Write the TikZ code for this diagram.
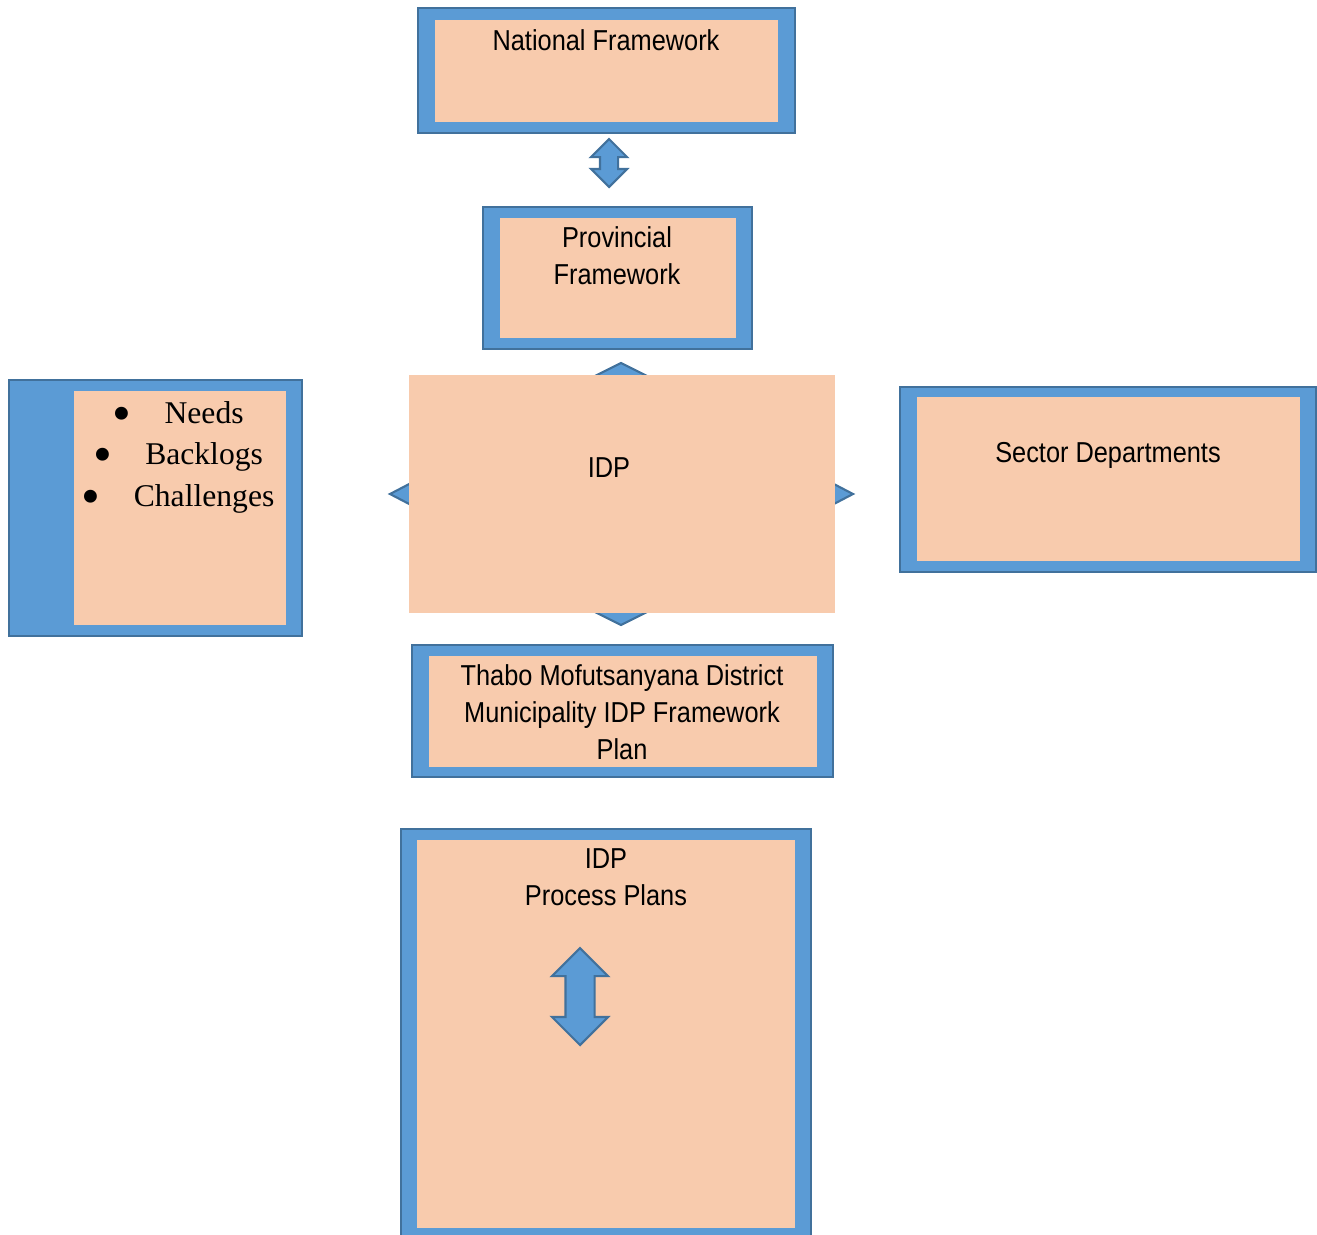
\documentclass[tikz,border=0pt]{standalone}
\usepackage{fontspec}
\setmainfont{Liberation Serif}
\newfontfamily\narrowsans[FakeStretch=0.88]{Liberation Sans}
\usetikzlibrary{fit,shapes.arrows}
\definecolor{boxblue}{HTML}{5B9BD5}
\definecolor{boxedge}{HTML}{41719C}
\definecolor{peach}{HTML}{F8CBAD}
\newcommand{\bigbul}{\raisebox{-0.55ex}{\scalebox{1.7}{\textbullet}}}
\begin{document}
\begin{tikzpicture}[x=0.02cm,y=-0.02cm,line join=miter,
	frame/.style={draw=boxedge,fill=boxblue,line width=1.2pt,inner sep=0pt},
	pane/.style={fill=peach,inner sep=0pt},
	txt/.style={font=\narrowsans\fontsize{16.4}{21}\selectfont,align=center,inner sep=0pt},
	bul/.style={font=\fontsize{18}{23.8}\selectfont,align=center,inner sep=0pt},
	updown/.style={double arrow,rotate=90,draw=boxedge,fill=boxblue,line width=1.2pt,inner xsep=0pt,double arrow tip angle=90}]
	\useasboundingbox (0,0) rectangle (1317,1234);
	\clip (0,0) rectangle (1317,1234);
	% national
	\node[frame,fit={(418,8) (795,133)}] (nat) {};
	\node[pane,fit={(435,20) (778,122)}] (natin) {};
	\node[txt] (natlbl) at (606,40) {National Framework};
	\node[updown,minimum height=0.96cm,inner ysep=0.16cm,double arrow head extend=0.18cm] (natarr) at (609,163) {};
	% provincial
	\node[frame,fit={(483,207) (752,349)}] (prov) {};
	\node[pane,fit={(500,218) (736,338)}] (provin) {};
	\node[txt] (provlbl) at (617,256) {Provincial\\Framework};
	% quad arrow behind idp
	\filldraw[draw=boxedge,fill=boxblue,line width=1.2pt] (621,363)--(651,378)--(591,378)--cycle;
	\filldraw[draw=boxedge,fill=boxblue,line width=1.2pt] (621,625)--(651,610)--(591,610)--cycle;
	\filldraw[draw=boxedge,fill=boxblue,line width=1.2pt] (390,494)--(414,481.5)--(414,506.5)--cycle;
	\filldraw[draw=boxedge,fill=boxblue,line width=1.2pt] (853,494)--(830,482)--(830,506)--cycle;
	\node[pane,fit={(409,375) (835,613)}] (idp) {};
	\node[txt] (idplbl) at (609,468) {IDP};
	% needs
	\node[frame,fit={(9,380) (302,636)}] (needs) {};
	\node[pane,fit={(74,391) (286,625)}] (needsin) {};
	\node[bul] (needslbl) at (178,458) {\bigbul\hspace{19pt}Needs\\\bigbul\hspace{19pt}Backlogs\\\bigbul\hspace{19pt}Challenges};
	% sector
	\node[frame,fit={(900,387) (1316,572)}] (sect) {};
	\node[pane,fit={(917,397) (1300,561)}] (sectin) {};
	\node[txt] (sectlbl) at (1108,455) {Sector Departments};
	% district
	\node[frame,fit={(412,645) (833,777)}] (dist) {};
	\node[pane,fit={(429,656) (817,767)}] (distin) {};
	\node[txt] (distlbl) at (622,712) {Thabo Mofutsanyana District\\Municipality IDP Framework\\Plan};
	% process plans
	\node[frame,fit={(401,829) (811,1250)}] (plans) {};
	\node[pane,fit={(417,840) (795,1228)}] (plansin) {};
	\node[txt] (planslbl) at (606,877) {IDP\\Process Plans};
	\node[updown,minimum height=1.94cm,inner ysep=0.27cm,double arrow head extend=0.27cm] (plansarr) at (580,996.5) {};
\end{tikzpicture}
\end{document}
